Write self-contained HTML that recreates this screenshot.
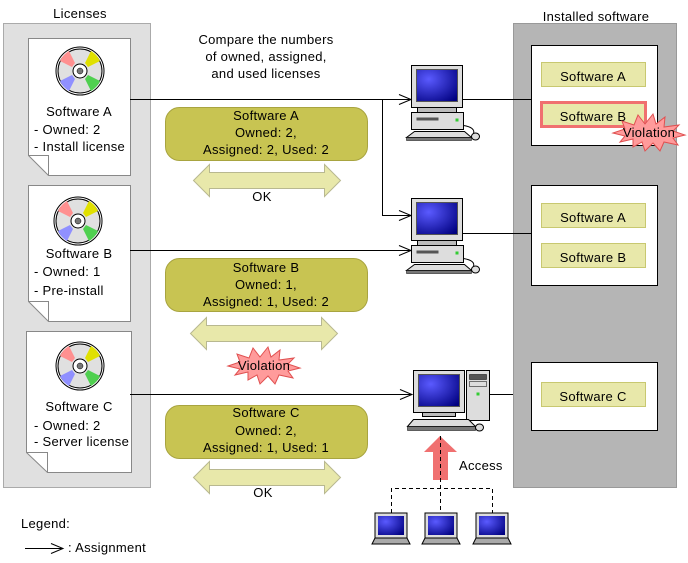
<!DOCTYPE html>
<html><head><meta charset="utf-8"><style>
html,body{margin:0;padding:0;background:#fff}
svg{display:block;font-family:"Liberation Sans",sans-serif}
text{font-size:13px;letter-spacing:0.3px;fill:#000}
</style></head><body>
<svg width="688" height="563" viewBox="0 0 688 563" xmlns="http://www.w3.org/2000/svg">
<defs>
<radialGradient id="scr" cx="0.3" cy="0.3" r="0.9"><stop offset="0" stop-color="#5a5aff"/><stop offset="1" stop-color="#000080"/></radialGradient>
<g id="cd">
<circle r="24" fill="#fff" stroke="#000" stroke-width="1"/>
<circle r="22" fill="#e0e0e0" stroke="#000" stroke-width="1"/>
<path d="M-5,-8 L-11,-20 A22,22 0 0 0 -20,-10 L-8,-4 Z" fill="#ff9090"/>
<path d="M5,-8 L11,-20 A22,22 0 0 1 20,-10 L8,-4 Z" fill="#e0e000"/>
<path d="M-5,8 L-11,20 A22,22 0 0 1 -20,10 L-8,4 Z" fill="#9090ff"/>
<path d="M5,8 L11,20 A22,22 0 0 0 20,10 L8,4 Z" fill="#50d050"/>
<circle r="7" fill="#fff" stroke="#000"/>
<circle r="3" fill="#777" stroke="#000" stroke-width="0.5"/>
</g>
<g id="pc">
<rect x="0" y="0" width="51" height="42" fill="#ddd" stroke="#000"/>
<rect x="5" y="4" width="41" height="32" fill="url(#scr)" stroke="#555"/>
<rect x="6" y="42" width="39" height="5" fill="#bbb" stroke="#000"/>
<rect x="0" y="47" width="52" height="17" fill="#ddd" stroke="#000"/>
<rect x="5" y="52" width="22" height="3" fill="#555"/>
<rect x="44" y="53" width="3" height="3" fill="#3c3"/>
<path d="M-5,72 L3,66 L53,66 L60,72 Z" fill="#ddd" stroke="#000"/>
<rect x="-5" y="72" width="65" height="3" fill="#777" stroke="#000" stroke-width="0.5"/>
<path d="M52,60 Q64,62 62,68" fill="none" stroke="#000"/>
<ellipse cx="64" cy="71" rx="4" ry="3.5" fill="#ddd" stroke="#000"/>
</g>
<g id="lap">
<rect x="3" y="0" width="32" height="25" fill="#ddd" stroke="#000"/>
<rect x="6" y="3" width="26" height="19" fill="url(#scr)"/>
<path d="M0,31 L3,25 L35,25 L38,31 Z" fill="#aaa" stroke="#000"/>
</g>
<g id="dbl">
<path d="M0,16 L16,0 L16,8 L131,8 L131,0 L147,16 L131,32 L131,24 L16,24 L16,32 Z" fill="#e8e8aa" stroke="#b8b890"/>
</g>
<g id="star">
<path d="M-36,0 L-24,-4 L-27,-12 L-15,-8 L-11,-18 L-4,-9 L4,-19 L7,-9 L16,-16 L15,-6 L30,-8 L24,-2 L36,2 L24,5 L29,12 L15,9 L11,18 L4,10 L-4,18 L-7,9 L-16,14 L-16,6 L-29,9 L-24,3 Z" fill="#ff9b9b" stroke="#e05050"/>
</g>
<g id="ah"><path d="M-12,-5 L0,0 L-12,5" fill="none" stroke="#000"/></g>
</defs>

<text x="80" y="18" text-anchor="middle">Licenses</text>
<rect x="3.5" y="23.5" width="147" height="464" fill="#e0e0e0" stroke="#aaa"/>

<path d="M28.5,38.5 H130.5 V175.5 H48.5 L28.5,155.5 Z" fill="#fff" stroke="#888"/>
<path d="M28.5,155.5 H48.5 V175.5" fill="none" stroke="#888"/>
<use href="#cd" x="80" y="71"/>
<text x="79" y="116" text-anchor="middle">Software A</text>
<text x="34" y="134">- Owned: 2</text>
<text x="34" y="151">- Install license</text>

<path d="M28.5,185.5 H130.5 V321.5 H48.5 L28.5,301.5 Z" fill="#fff" stroke="#888"/>
<path d="M28.5,301.5 H48.5 V321.5" fill="none" stroke="#888"/>
<use href="#cd" x="78" y="221"/>
<text x="79" y="258" text-anchor="middle">Software B</text>
<text x="34" y="276">- Owned: 1</text>
<text x="34" y="295">- Pre-install</text>

<path d="M26.5,331.5 H131.5 V472.5 H47.5 L26.5,452.5 Z" fill="#fff" stroke="#888"/>
<path d="M26.5,452.5 H47.5 V472.5" fill="none" stroke="#888"/>
<use href="#cd" x="80" y="366"/>
<text x="79" y="411" text-anchor="middle">Software C</text>
<text x="34" y="430">- Owned: 2</text>
<text x="34" y="446">- Server license</text>

<text x="596" y="21" text-anchor="middle">Installed software</text>
<rect x="513.5" y="23.5" width="163" height="464" fill="#b5b5b5" stroke="#999"/>
<rect x="531.5" y="45.5" width="126" height="100" fill="#fff" stroke="#000"/>
<rect x="541.5" y="62.5" width="104" height="24" fill="#e8e8aa" stroke="#c8c870"/>
<text x="593" y="81" text-anchor="middle">Software A</text>
<rect x="541.5" y="102.5" width="104" height="24" fill="#e8e8aa" stroke="#f07070" stroke-width="3"/>
<text x="593" y="121" text-anchor="middle">Software B</text>
<use href="#star" x="649" y="133"/>
<text x="649" y="137" text-anchor="middle">Violation</text>

<rect x="531.5" y="185.5" width="126" height="100" fill="#fff" stroke="#000"/>
<rect x="541.5" y="203.5" width="104" height="24" fill="#e8e8aa" stroke="#c8c870"/>
<text x="593" y="222" text-anchor="middle">Software A</text>
<rect x="541.5" y="243.5" width="104" height="24" fill="#e8e8aa" stroke="#c8c870"/>
<text x="593" y="262" text-anchor="middle">Software B</text>

<rect x="531.5" y="362.5" width="126" height="68" fill="#fff" stroke="#000"/>
<rect x="541.5" y="382.5" width="104" height="24" fill="#e8e8aa" stroke="#c8c870"/>
<text x="593" y="401" text-anchor="middle">Software C</text>

<text x="266" y="44" text-anchor="middle">Compare the numbers</text>
<text x="266" y="61" text-anchor="middle">of owned, assigned,</text>
<text x="266" y="78" text-anchor="middle">and used licenses</text>

<g stroke="#000" fill="none">
<path d="M130,99.5 H411 M382.5,99.5 V215.5 H411 M130,250.5 H411 M130,394.5 H411"/>
<path d="M462,99.5 H531 M462,233.5 H531 M489,394.5 H513"/>
</g>
<use href="#ah" x="411" y="99.5"/>
<use href="#ah" x="411" y="215.5"/>
<use href="#ah" x="411" y="250.5"/>
<use href="#ah" x="412" y="394.5"/>

<use href="#pc" x="411.5" y="65.5"/>
<use href="#pc" x="411.5" y="198.5"/>
<g transform="translate(413.5,370.5)">
<rect x="53" y="0" width="23" height="50" fill="#ddd" stroke="#000"/>
<rect x="56" y="4" width="17" height="5" fill="#555" stroke="#000" stroke-width="0.5"/>
<rect x="56" y="11" width="17" height="5" fill="#ddd" stroke="#000" stroke-width="0.5"/>
<rect x="63" y="22" width="3" height="3" fill="#3c3"/>
<rect x="0" y="0" width="51" height="42" fill="#ddd" stroke="#000"/>
<rect x="5" y="4" width="41" height="32" fill="url(#scr)" stroke="#555"/>
<rect x="9" y="42" width="33" height="4" fill="#bbb" stroke="#000"/>
<path d="M-6,56 L0,49 L55,49 L62,56 Z" fill="#ddd" stroke="#000"/>
<rect x="-6" y="56" width="68" height="4" fill="#777" stroke="#000" stroke-width="0.5"/>
<ellipse cx="66" cy="57" rx="4" ry="3.5" fill="#ddd" stroke="#000"/>
</g>

<rect x="165.5" y="107.5" width="202" height="53" rx="14" fill="#c8c452" stroke="#a8a440"/>
<text x="266" y="120" text-anchor="middle">Software A</text>
<text x="266" y="137" text-anchor="middle">Owned: 2,</text>
<text x="266" y="154" text-anchor="middle">Assigned: 2, Used: 2</text>
<use href="#dbl" x="193.5" y="164.5"/>
<text x="262" y="201" text-anchor="middle">OK</text>

<rect x="165.5" y="258.5" width="202" height="53" rx="14" fill="#c8c452" stroke="#a8a440"/>
<text x="266" y="272" text-anchor="middle">Software B</text>
<text x="266" y="289" text-anchor="middle">Owned: 1,</text>
<text x="266" y="306" text-anchor="middle">Assigned: 1, Used: 2</text>
<use href="#dbl" x="190.5" y="317.5"/>
<use href="#star" x="264" y="366"/>
<text x="264" y="370" text-anchor="middle">Violation</text>

<rect x="165.5" y="405.5" width="202" height="53" rx="14" fill="#c8c452" stroke="#a8a440"/>
<text x="266" y="417" text-anchor="middle">Software C</text>
<text x="266" y="435" text-anchor="middle">Owned: 2,</text>
<text x="266" y="452" text-anchor="middle">Assigned: 1, Used: 1</text>
<use href="#dbl" x="193.5" y="461.5"/>
<text x="263" y="497" text-anchor="middle">OK</text>

<path d="M424,452 L440,436 L457,452 L448,452 L448,480 L433,480 L433,452 Z" fill="#f07070"/>
<g stroke="#000" stroke-dasharray="4,3" fill="none">
<path d="M440.5,436 V513 M391.5,513 V488.5 H492.5 V513"/>
</g>
<text x="459" y="470">Access</text>
<use href="#lap" x="372" y="513"/>
<use href="#lap" x="422" y="513"/>
<use href="#lap" x="473" y="513"/>

<text x="21" y="528">Legend:</text>
<path d="M25,548.5 H63" stroke="#000"/>
<use href="#ah" x="63" y="548.5"/>
<text x="68" y="552">: Assignment</text>
</svg>
</body></html>
